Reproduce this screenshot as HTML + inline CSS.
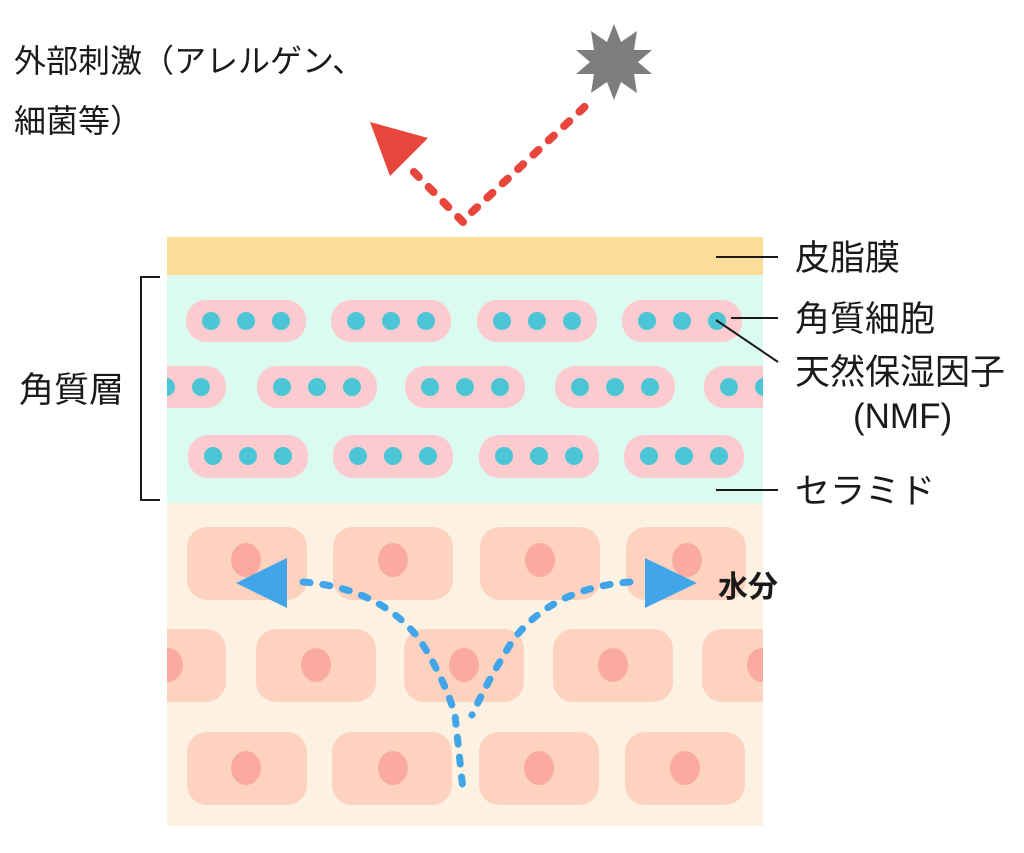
<!DOCTYPE html>
<html><head><meta charset="utf-8"><style>
body{margin:0;width:1024px;height:853px;background:#fff;overflow:hidden}
svg{display:block}
text{font-family:"Liberation Sans","Noto Sans CJK JP",sans-serif;fill:#1a1a1a}
</style></head><body>
<svg width="1024" height="853" viewBox="0 0 1024 853">
<defs><clipPath id="c"><rect x="167" y="237" width="596" height="589"/></clipPath></defs>
<rect x="167" y="237" width="596" height="38" fill="#fddc98"/>
<rect x="167" y="275" width="596" height="228" fill="#dbfbf1"/>
<rect x="167" y="503" width="596" height="323" fill="#fdf1e1"/>
<g clip-path="url(#c)">
<g fill="#fbcbd0">
<rect x="186" y="300" width="120" height="42" rx="20"/><rect x="331" y="300" width="120" height="42" rx="20"/><rect x="477" y="300" width="120" height="42" rx="20"/><rect x="622" y="300" width="120" height="42" rx="20"/>
<rect x="106" y="366" width="120" height="42" rx="20"/><rect x="257" y="366" width="120" height="42" rx="20"/><rect x="405" y="366" width="120" height="42" rx="20"/><rect x="555" y="366" width="120" height="42" rx="20"/><rect x="704" y="366" width="120" height="42" rx="20"/>
<rect x="188" y="435" width="120" height="43" rx="20"/><rect x="333" y="435" width="120" height="43" rx="20"/><rect x="479" y="435" width="120" height="43" rx="20"/><rect x="624" y="435" width="120" height="43" rx="20"/>
</g>
<g fill="#4cc6d6">
<circle cx="211" cy="321" r="9"/><circle cx="246" cy="321" r="9"/><circle cx="281" cy="321" r="9"/>
<circle cx="356" cy="321" r="9"/><circle cx="391" cy="321" r="9"/><circle cx="426" cy="321" r="9"/>
<circle cx="502" cy="321" r="9"/><circle cx="537" cy="321" r="9"/><circle cx="572" cy="321" r="9"/>
<circle cx="647" cy="321" r="9"/><circle cx="682" cy="321" r="9"/><circle cx="717" cy="321" r="9"/>
<circle cx="166" cy="387" r="9"/><circle cx="201" cy="387" r="9"/>
<circle cx="282" cy="387" r="9"/><circle cx="317" cy="387" r="9"/><circle cx="352" cy="387" r="9"/>
<circle cx="430" cy="387" r="9"/><circle cx="465" cy="387" r="9"/><circle cx="500" cy="387" r="9"/>
<circle cx="580" cy="387" r="9"/><circle cx="615" cy="387" r="9"/><circle cx="650" cy="387" r="9"/>
<circle cx="729" cy="387" r="9"/><circle cx="764" cy="387" r="9"/>
<circle cx="213" cy="456" r="9"/><circle cx="248" cy="456" r="9"/><circle cx="283" cy="456" r="9"/>
<circle cx="358" cy="456" r="9"/><circle cx="393" cy="456" r="9"/><circle cx="428" cy="456" r="9"/>
<circle cx="504" cy="456" r="9"/><circle cx="539" cy="456" r="9"/><circle cx="574" cy="456" r="9"/>
<circle cx="649" cy="456" r="9"/><circle cx="684" cy="456" r="9"/><circle cx="719" cy="456" r="9"/>
</g>
<g fill="#fdd3c0">
<rect x="187" y="527" width="120" height="73" rx="20"/><rect x="333" y="527" width="120" height="73" rx="20"/><rect x="480" y="527" width="120" height="73" rx="20"/><rect x="626" y="527" width="120" height="73" rx="20"/>
<rect x="106" y="629" width="120" height="73" rx="20"/><rect x="256" y="629" width="120" height="73" rx="20"/><rect x="404" y="629" width="120" height="73" rx="20"/><rect x="553" y="629" width="120" height="73" rx="20"/><rect x="702" y="629" width="120" height="73" rx="20"/>
<rect x="187" y="732" width="120" height="73" rx="20"/><rect x="332" y="732" width="120" height="73" rx="20"/><rect x="479" y="732" width="120" height="73" rx="20"/><rect x="625" y="732" width="120" height="73" rx="20"/>
</g>
<g fill="#fbaaa0">
<ellipse cx="246" cy="560" rx="15" ry="17"/><ellipse cx="393" cy="560" rx="15" ry="17"/><ellipse cx="540" cy="560" rx="15" ry="17"/><ellipse cx="687" cy="560" rx="15" ry="17"/>
<ellipse cx="168" cy="665" rx="15" ry="17"/><ellipse cx="316" cy="665" rx="15" ry="17"/><ellipse cx="464" cy="665" rx="15" ry="17"/><ellipse cx="613" cy="665" rx="15" ry="17"/><ellipse cx="762" cy="665" rx="15" ry="17"/>
<ellipse cx="246" cy="768" rx="15" ry="17"/><ellipse cx="393" cy="768" rx="15" ry="17"/><ellipse cx="539" cy="768" rx="15" ry="17"/><ellipse cx="685" cy="768" rx="15" ry="17"/>
</g>
</g>
<g fill="none" stroke="#42a5ea" stroke-width="7" stroke-linecap="round" stroke-dasharray="7 13">
<path d="M303 582 Q380 588 420 640 Q445 680 455 715 L463 790"/>
<path d="M630 582 Q553 588 513 640 Q488 680 472 715"/>
</g>
<polygon points="236,583 287,558 287,608" fill="#42a5ea"/>
<polygon points="697,583 645,558 645,608" fill="#42a5ea"/>
<text x="718" y="597" font-size="30" font-weight="bold">水分</text>
<g fill="none" stroke="#e8453c" stroke-width="8" stroke-linecap="round" stroke-dasharray="7 14">
<path d="M463 222 L410 168"/>
<path d="M472 212 L592 100"/>
</g>
<polygon points="370,122 428,138 390,176" fill="#e8453c"/>
<polygon fill="#7d7d7d" points="614,24 621,42 637,31 634,50 652,50 638,62 652,74 634,74 637,93 621,82 614,100 607,82 591,93 594,74 576,74 590,62 576,50 594,50 591,31 607,42"/>
<g font-size="32">
<text x="14" y="72">外部刺激（アレルゲン、</text>
<text x="14" y="132">細菌等）</text>
</g>
<g font-size="35">
<text x="795" y="270">皮脂膜</text>
<text x="795" y="331">角質細胞</text>
<text x="795" y="384">天然保湿因子</text>
<text x="853" y="428">(NMF)</text>
<text x="795" y="503">セラミド</text>
<text x="19" y="402">角質層</text>
</g>
<g stroke="#1a1a1a" stroke-width="2" fill="none">
<line x1="716" y1="257" x2="778" y2="257"/>
<line x1="731" y1="318" x2="778" y2="318"/>
<line x1="716" y1="320" x2="778" y2="362"/>
<line x1="716" y1="490" x2="778" y2="490"/>
<polyline points="160,277 141,277 141,500 160,500"/>
</g>
</svg>
</body></html>
